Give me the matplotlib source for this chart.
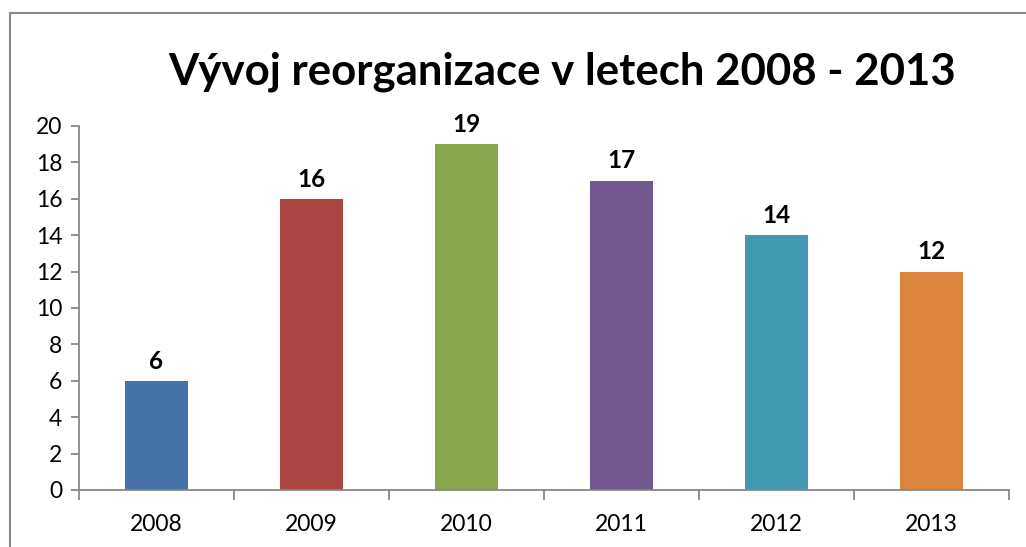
import matplotlib.pyplot as plt
from matplotlib.patches import Rectangle

years = ['2008', '2009', '2010', '2011', '2012', '2013']
values = [6, 16, 19, 17, 14, 12]
colors = ['#4572A7', '#AA4643', '#89A54E', '#71588F', '#4198AF', '#DB843D']

plt.rcParams['font.family'] = ['Lato', 'DejaVu Sans']

fig = plt.figure(figsize=(10.26, 5.47), dpi=100)
ax = fig.add_axes([79 / 1026, 1 - 490 / 547, (1009 - 79) / 1026, (490 - 126) / 547])

# chart area border (only left/top visible in the original)
fig.add_artist(Rectangle((10 / 1026, -0.05), 1.2, 1 - 13 / 547 + 0.05,
                         transform=fig.transFigure, fill=False,
                         edgecolor='#888888', lw=1.5))

pos = [i + 0.5 for i in range(len(years))]
ax.bar(pos, values, width=0.41, color=colors)

for x, v in zip(pos, values):
    ax.text(x, v + 0.45, str(v), ha='center', va='bottom',
            fontsize=17.5, fontweight='bold')

ax.set_xlim(0, 6)
ax.set_ylim(0, 20)
ax.set_yticks(range(0, 21, 2))
ax.set_xticks(pos)
ax.set_xticklabels(years)
ax.set_xticks(range(0, 7), minor=True)
ax.tick_params(axis='x', which='major', length=0, pad=17, labelsize=16.5)
ax.tick_params(axis='x', which='minor', length=7, width=1.3, color='#888888')
ax.tick_params(axis='y', length=6, width=1.3, color='#888888', labelsize=16.5, pad=6)

for s in ['top', 'right']:
    ax.spines[s].set_visible(False)
for s in ['left', 'bottom']:
    ax.spines[s].set_color('#888888')
    ax.spines[s].set_linewidth(1.3)

fig.text(562 / 1026, 1 - 72 / 547, 'Vývoj reorganizace v letech 2008 - 2013',
         ha='center', va='center', fontsize=31.5, fontweight='bold')

fig.savefig('out.png', dpi=100)
